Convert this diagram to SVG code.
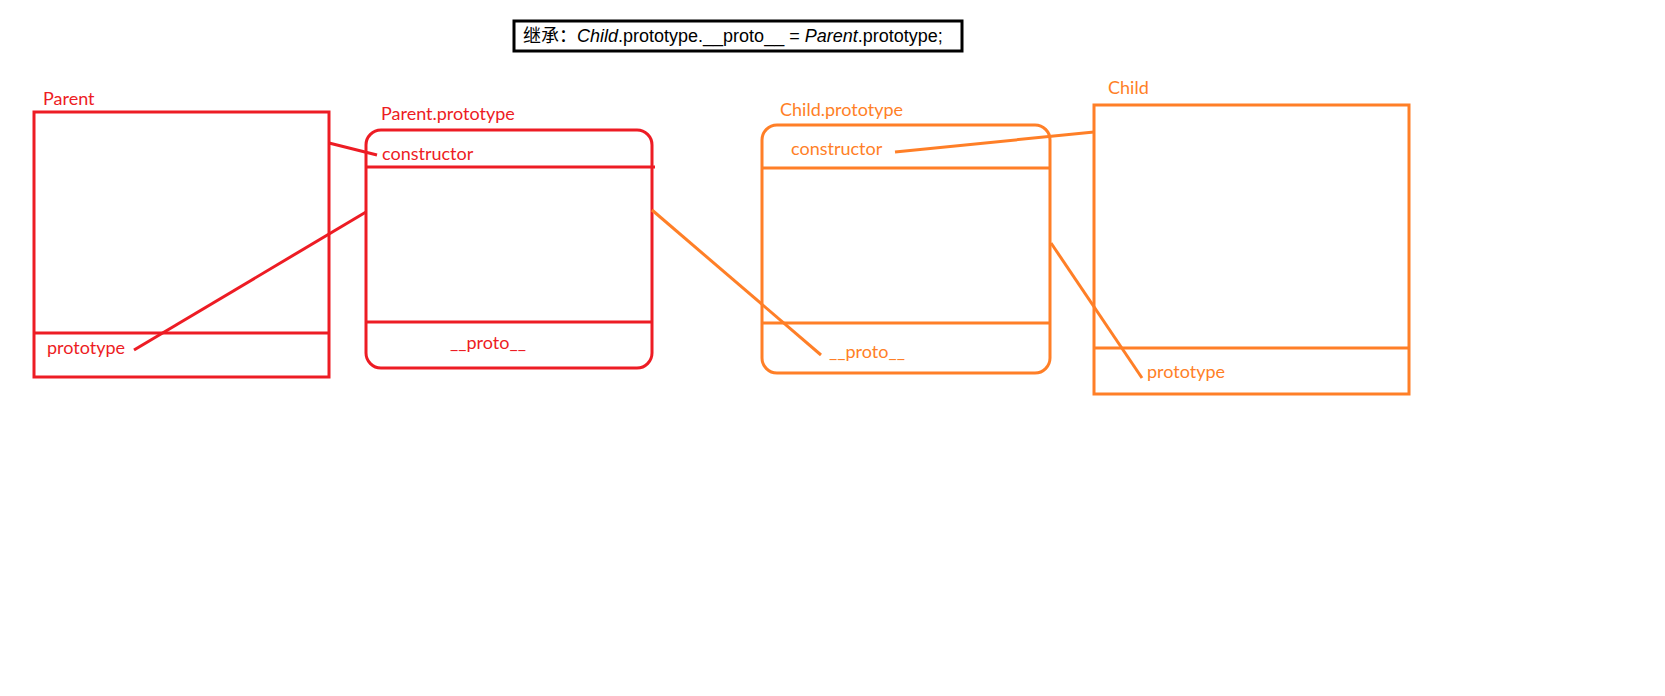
<svg xmlns="http://www.w3.org/2000/svg" width="1665" height="696" viewBox="0 0 1665 696">
<style>
.red{stroke:#ED1C24;fill:none;stroke-width:3}
.org{stroke:#FF7F27;fill:none;stroke-width:3}
.tr{fill:#ED1C24;font-family:Lato,"Open Sans",sans-serif;font-size:18px}
.to{fill:#FF7F27;font-family:Lato,"Open Sans",sans-serif;font-size:18px}
.title{fill:#000;font-family:"Liberation Sans","Noto Sans CJK SC",sans-serif;font-size:18px}
</style>
<rect width="1665" height="696" fill="#fff"/>
<g id="title">
<rect x="514" y="21" width="448" height="30" fill="none" stroke="#000" stroke-width="3"/>
<text class="title" x="523" y="42">继承：<tspan font-style="italic">Child</tspan>.prototype.__proto__ = <tspan font-style="italic">Parent</tspan>.prototype;</text>
</g>
<g id="parent">
<text class="tr" x="43" y="105">Parent</text>
<rect class="red" x="34" y="112" width="295" height="265"/>
<line class="red" x1="34" y1="333" x2="329" y2="333"/>
<text class="tr" x="47" y="354">prototype</text>
</g>
<g id="parent-prototype">
<text class="tr" x="381" y="120">Parent.prototype</text>
<rect class="red" x="366" y="130" width="286" height="238" rx="15"/>
<line class="red" x1="366" y1="167" x2="655" y2="167"/>
<line class="red" x1="366" y1="322" x2="652" y2="322"/>
<text class="tr" x="382" y="160">constructor</text>
<text class="tr" x="450" y="349">__proto__</text>
</g>
<g id="child-prototype">
<text class="to" x="780" y="116">Child.prototype</text>
<rect class="org" x="762" y="125" width="288" height="248" rx="15"/>
<line class="org" x1="762" y1="168" x2="1050" y2="168"/>
<line class="org" x1="762" y1="323" x2="1050" y2="323"/>
<text class="to" x="791" y="155">constructor</text>
<text class="to" x="829" y="358">__proto__</text>
</g>
<g id="child">
<text class="to" x="1108" y="94">Child</text>
<rect class="org" x="1094" y="105" width="315" height="289"/>
<line class="org" x1="1094" y1="348" x2="1409" y2="348"/>
<text class="to" x="1147" y="378">prototype</text>
</g>
<g id="connectors">
<line class="red" x1="329" y1="143" x2="377" y2="155"/>
<line class="red" x1="134" y1="350" x2="366" y2="212"/>
<line class="org" x1="652" y1="210" x2="821" y2="355"/>
<line class="org" x1="895" y1="152" x2="1094" y2="132"/>
<line class="org" x1="1051" y1="243" x2="1142" y2="378"/>
</g>
</svg>
